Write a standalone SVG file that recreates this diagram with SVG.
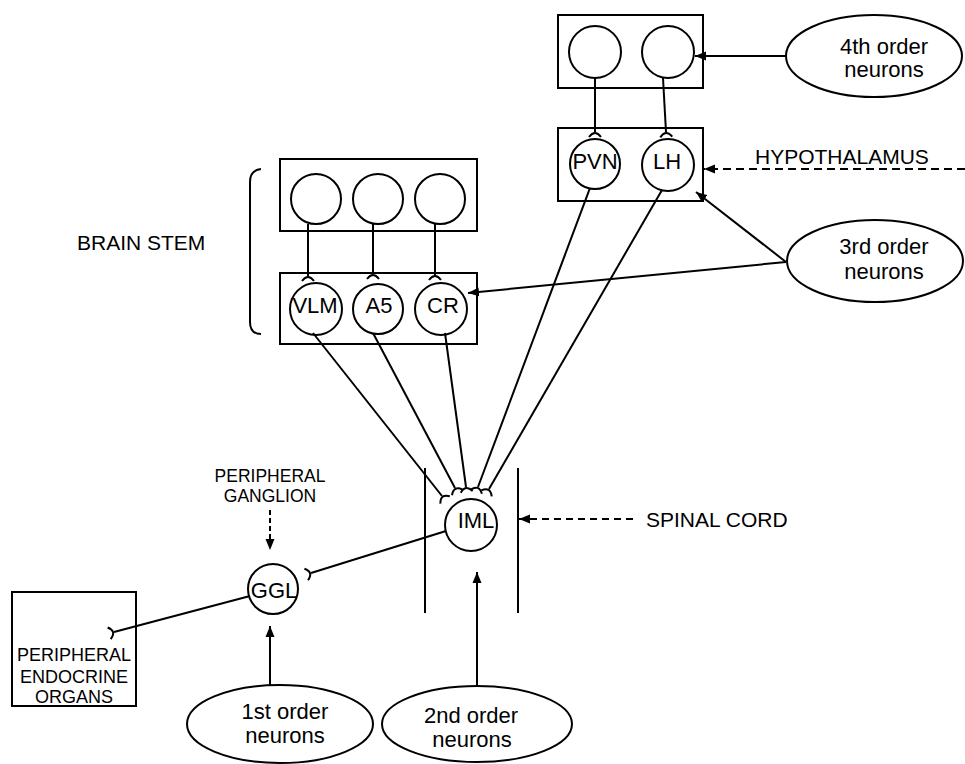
<svg xmlns="http://www.w3.org/2000/svg" width="965" height="764" viewBox="0 0 965 764">
<style>
.s{fill:none;stroke:#000;stroke-width:2}
.b{fill:#fff;stroke:#000;stroke-width:2}
.t{font-family:"Liberation Sans",Arial,sans-serif;font-size:22px;fill:#000;text-anchor:middle}
.tl{font-family:"Liberation Sans",Arial,sans-serif;font-size:21px;fill:#000}
.ts{font-family:"Liberation Sans",Arial,sans-serif;font-size:17.5px;fill:#000;text-anchor:middle}
.d{stroke-dasharray:8,5}
.syn{marker-end:url(#syn)}
.arr{marker-end:url(#arr)}
</style>
<defs>
<marker id="arr" markerUnits="userSpaceOnUse" markerWidth="12" markerHeight="10" viewBox="0 0 12 10" refX="11" refY="5" orient="auto"><path d="M0,0.5 L11,5 L0,9.5 z" fill="#000"/></marker>
<marker id="syn" markerUnits="userSpaceOnUse" markerWidth="14" markerHeight="16" viewBox="-7 -8 14 16" refX="0" refY="0" orient="auto" overflow="visible"><path d="M5,-6 Q-3,0 5,6" fill="none" stroke="#000" stroke-width="2"/></marker>
</defs>
<rect width="965" height="764" fill="#fff"/>

<g id="connectors">
<path class="s syn" d="M595,78 L595,132"/>
<path class="s syn" d="M663,78 L666,132"/>
<path class="s syn" d="M308,224 L308,276"/>
<path class="s syn" d="M373,224 L373,274"/>
<path class="s syn" d="M435,224 L435,275"/>
<path class="s syn" d="M313,333 L442,496"/>
<path class="s syn" d="M373,333 L455,488"/>
<path class="s syn" d="M445,333 L466,487"/>
<path class="s syn" d="M590,188 L478,487"/>
<path class="s syn" d="M662,190 L489,489"/>
<path class="s syn" d="M446,531 L311,573"/>
<path class="s syn" d="M250,596 L114,632"/>
<path class="s arr" d="M786,56 L695,56"/>
<path class="s arr" d="M786,262 L696,192"/>
<path class="s arr" d="M786,262 L468,293"/>
<path class="s arr" d="M270,685 L270,626"/>
<path class="s arr" d="M477,686 L477,572"/>
<path class="s d arr" d="M965,169 L704,169"/>
<path class="s d arr" style="stroke-dasharray:7,5" d="M633,519 L519,519"/>
<path class="s d arr" style="stroke-dasharray:5,3" d="M270,510 L270,550"/>
</g>

<g id="hypothalamus-upper">
<rect class="s" x="558" y="15" width="145" height="73"/>
<circle class="b" cx="595" cy="52" r="26"/>
<circle class="b" cx="668" cy="52" r="26"/>
</g>
<g id="hypothalamus-lower">
<rect class="s" x="558" y="128" width="145" height="73"/>
<circle class="s" cx="595" cy="164" r="25"/>
<text class="t" x="595" y="169">PVN</text>
<circle class="s" cx="668" cy="165" r="26"/>
<text class="t" x="667" y="169">LH</text>
</g>
<g id="hypothalamus-label">
<text class="tl" x="755" y="164">HYPOTHALAMUS</text>
</g>
<g id="fourth-order">
<ellipse class="s" cx="874" cy="56" rx="88" ry="41"/>
<text class="t" x="884" y="54">4th order</text>
<text class="t" x="884" y="77">neurons</text>
</g>
<g id="third-order">
<ellipse class="s" cx="875" cy="261" rx="88" ry="41"/>
<text class="t" x="884" y="254">3rd order</text>
<text class="t" x="884" y="279">neurons</text>
</g>

<g id="brainstem-upper">
<rect class="s" x="280" y="159" width="197" height="72"/>
<circle class="s" cx="316" cy="199" r="25"/>
<circle class="s" cx="378" cy="199" r="25"/>
<circle class="s" cx="440" cy="199" r="25"/>
</g>
<g id="brainstem-lower">
<rect class="s" x="280" y="273" width="197" height="71"/>
<circle class="s" cx="316" cy="309" r="26"/>
<text class="t" x="315" y="313">VLM</text>
<circle class="s" cx="378" cy="309" r="25"/>
<text class="t" x="379" y="313">A5</text>
<circle class="s" cx="441" cy="309" r="26"/>
<text class="t" x="443" y="313">CR</text>
</g>
<g id="brain-stem-label">
<path class="s" d="M261,169 Q250,170 250,182 L250,322 Q250,334 261,334"/>
<text class="tl" x="77" y="250">BRAIN STEM</text>
</g>

<g id="spinal-cord">
<path class="s" d="M425,468 L425,613 M518,468 L518,613"/>
<text class="tl" x="646" y="527">SPINAL CORD</text>
</g>
<g id="iml">
<circle class="s" cx="471" cy="525" r="26"/>
<text class="t" x="476" y="528">IML</text>
</g>

<g id="ganglion-label">
<text class="ts" x="270" y="482">PERIPHERAL</text>
<text class="ts" x="270" y="502">GANGLION</text>
</g>
<g id="ggl">
<circle class="s" cx="273" cy="589" r="25"/>
<text class="t" x="274" y="598">GGL</text>
</g>
<g id="endocrine-organs">
<rect class="s" x="12" y="592" width="124" height="114"/>
<text class="ts" style="font-size:18px" x="74" y="661">PERIPHERAL</text>
<text class="ts" style="font-size:18px" x="74" y="683">ENDOCRINE</text>
<text class="ts" style="font-size:18px" x="74" y="703">ORGANS</text>
</g>
<g id="first-order">
<ellipse class="s" cx="280" cy="724" rx="93" ry="39"/>
<text class="t" x="285" y="719">1st order</text>
<text class="t" x="285" y="743">neurons</text>
</g>
<g id="second-order">
<ellipse class="s" cx="477" cy="724" rx="95" ry="38"/>
<text class="t" x="471" y="723">2nd order</text>
<text class="t" x="472" y="747">neurons</text>
</g>
</svg>
